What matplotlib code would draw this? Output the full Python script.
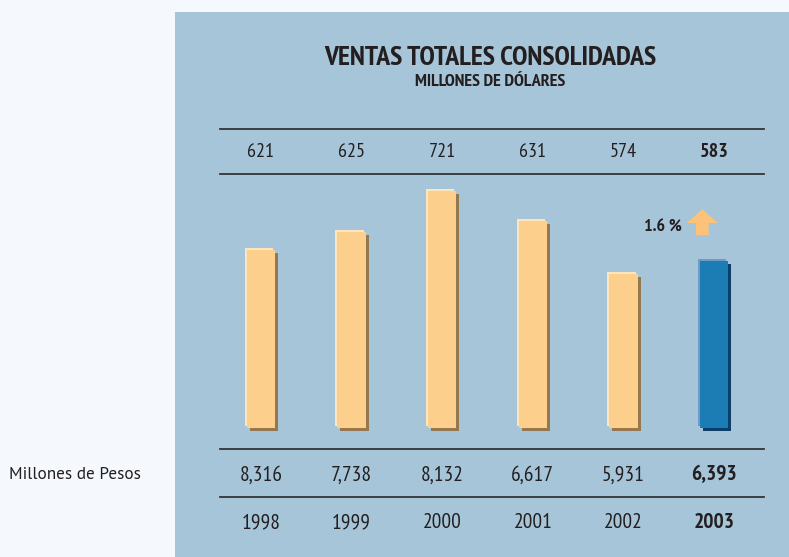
import matplotlib
matplotlib.use("Agg")
import matplotlib.pyplot as plt
import matplotlib.transforms as mtransforms
from matplotlib.patches import FancyArrow

# --- data ---
years = ["1998", "1999", "2000", "2001", "2002", "2003"]
usd_millions = ["621", "625", "721", "631", "574", "583"]
mxn_millions = ["8,316", "7,738", "8,132", "6,617", "5,931", "6,393"]
# bar heights as drawn in the original (relative units, no axis shown)
bar_heights = [178, 196, 237, 207, 154, 167]
growth_label = "1.6 %"

# --- styling ---
BG = "#f5f9fd"
PANEL = "#a7c5d9"
BAR_FACE = "#fccf8c"
BAR_LIGHT = "#fde6bd"
BAR_SHADOW = "#957850"
HL_FACE = "#1b7db3"
HL_LIGHT = "#6e9cc6"
HL_SHADOW = "#0b3e69"
TEXT = "#231f20"
COND = ["PT Sans Narrow", "DejaVu Sans"]
REG = ["PT Sans", "Open Sans", "DejaVu Sans"]

W, H = 789, 557
fig = plt.figure(figsize=(W / 100, H / 100), dpi=100, facecolor=BG)

# light-blue panel
panel = fig.add_axes([175 / W, 0, 1 - 175 / W, 1 - 12 / H])
panel.set_facecolor(PANEL)
panel.set_xticks([])
panel.set_yticks([])
for s in panel.spines.values():
    s.set_visible(False)

fig.text(490 / W, 1 - 58 / H, "VENTAS TOTALES CONSOLIDADAS", ha="center", va="center",
         fontsize=20, fontweight="bold", color=TEXT, family=COND)
fig.text(490 / W, 1 - 82 / H, "MILLONES DE DÓLARES", ha="center", va="center",
         fontsize=13, fontweight="bold", color=TEXT, family=COND)

# main axes: spans from top rule (y=129px) to bottom rule (y=497px)
top_px, bot_px = 129, 497
ax = fig.add_axes([220 / W, 1 - bot_px / H, 544 / W, (bot_px - top_px) / H])
ax.patch.set_alpha(0)
ax.set_xlim(-0.45, 5.55)
base_frac = (bot_px - 428) / (bot_px - top_px)
span = (bot_px - top_px)
ax.set_ylim(-base_frac * span, (1 - base_frac) * span)
ax.axis("off")

x = list(range(len(years)))
width = 0.31
n = len(years)
faces = [BAR_FACE] * (n - 1) + [HL_FACE]
lights = [BAR_LIGHT] * (n - 1) + [HL_LIGHT]
shadows = [BAR_SHADOW] * (n - 1) + [HL_SHADOW]

shadow_tr = ax.transData + mtransforms.ScaledTranslation(3 / 100, -3 / 100, fig.dpi_scale_trans)
light_tr = ax.transData + mtransforms.ScaledTranslation(-2 / 100, 2 / 100, fig.dpi_scale_trans)
ax.bar(x, bar_heights, width=width, color=shadows, transform=shadow_tr, zorder=2)
ax.bar(x, bar_heights, width=width, color=lights, transform=light_tr, zorder=3)
ax.bar(x, bar_heights, width=width, color=faces, zorder=4)

# table rules
rule_kw = dict(color="#333333", lw=1.3, zorder=1)
for yf in [1.0, (bot_px - 174) / span, (bot_px - 449) / span, 0.0]:
    ax.plot([0, 1], [yf, yf], transform=ax.transAxes, clip_on=False, **rule_kw)

tr = mtransforms.blended_transform_factory(ax.transData, ax.transAxes)
y_usd = (bot_px - 152) / span
y_mxn = (bot_px - 475) / span
y_year = (bot_px - 523) / span
for i in x:
    fw = "bold" if i == n - 1 else "normal"
    ax.text(i, y_usd, usd_millions[i], transform=tr, ha="center", va="center",
            fontsize=14.5, fontweight=fw, color=TEXT, family=COND)
    ax.text(i, y_mxn, mxn_millions[i], transform=tr, ha="center", va="center",
            fontsize=15.5, fontweight=fw, color=TEXT, family=COND)
    ax.text(i, y_year, years[i], transform=tr, ha="center", va="center",
            fontsize=15.5, fontweight=fw, color=TEXT, family=COND)

fig.text(9 / W, 1 - 475 / H, "Millones de Pesos", ha="left", va="center",
         fontsize=12.3, color=TEXT, family=REG)

# growth arrow + label next to the 2003 bar
last = n - 1
ax_x = last - 0.13
ay0 = bar_heights[last] + 26
arrow = FancyArrow(ax_x, ay0, 0, 26, width=0.14, head_width=0.34, head_length=14,
                   length_includes_head=True, color="#fcc27a", lw=0, zorder=5)
ax.add_patch(arrow)
ax.text(last - 0.36, ay0 + 7, growth_label, ha="right", va="center",
        fontsize=13, fontweight="bold", color=TEXT, family=COND)

fig.savefig("out.png", dpi=100, facecolor=BG)
